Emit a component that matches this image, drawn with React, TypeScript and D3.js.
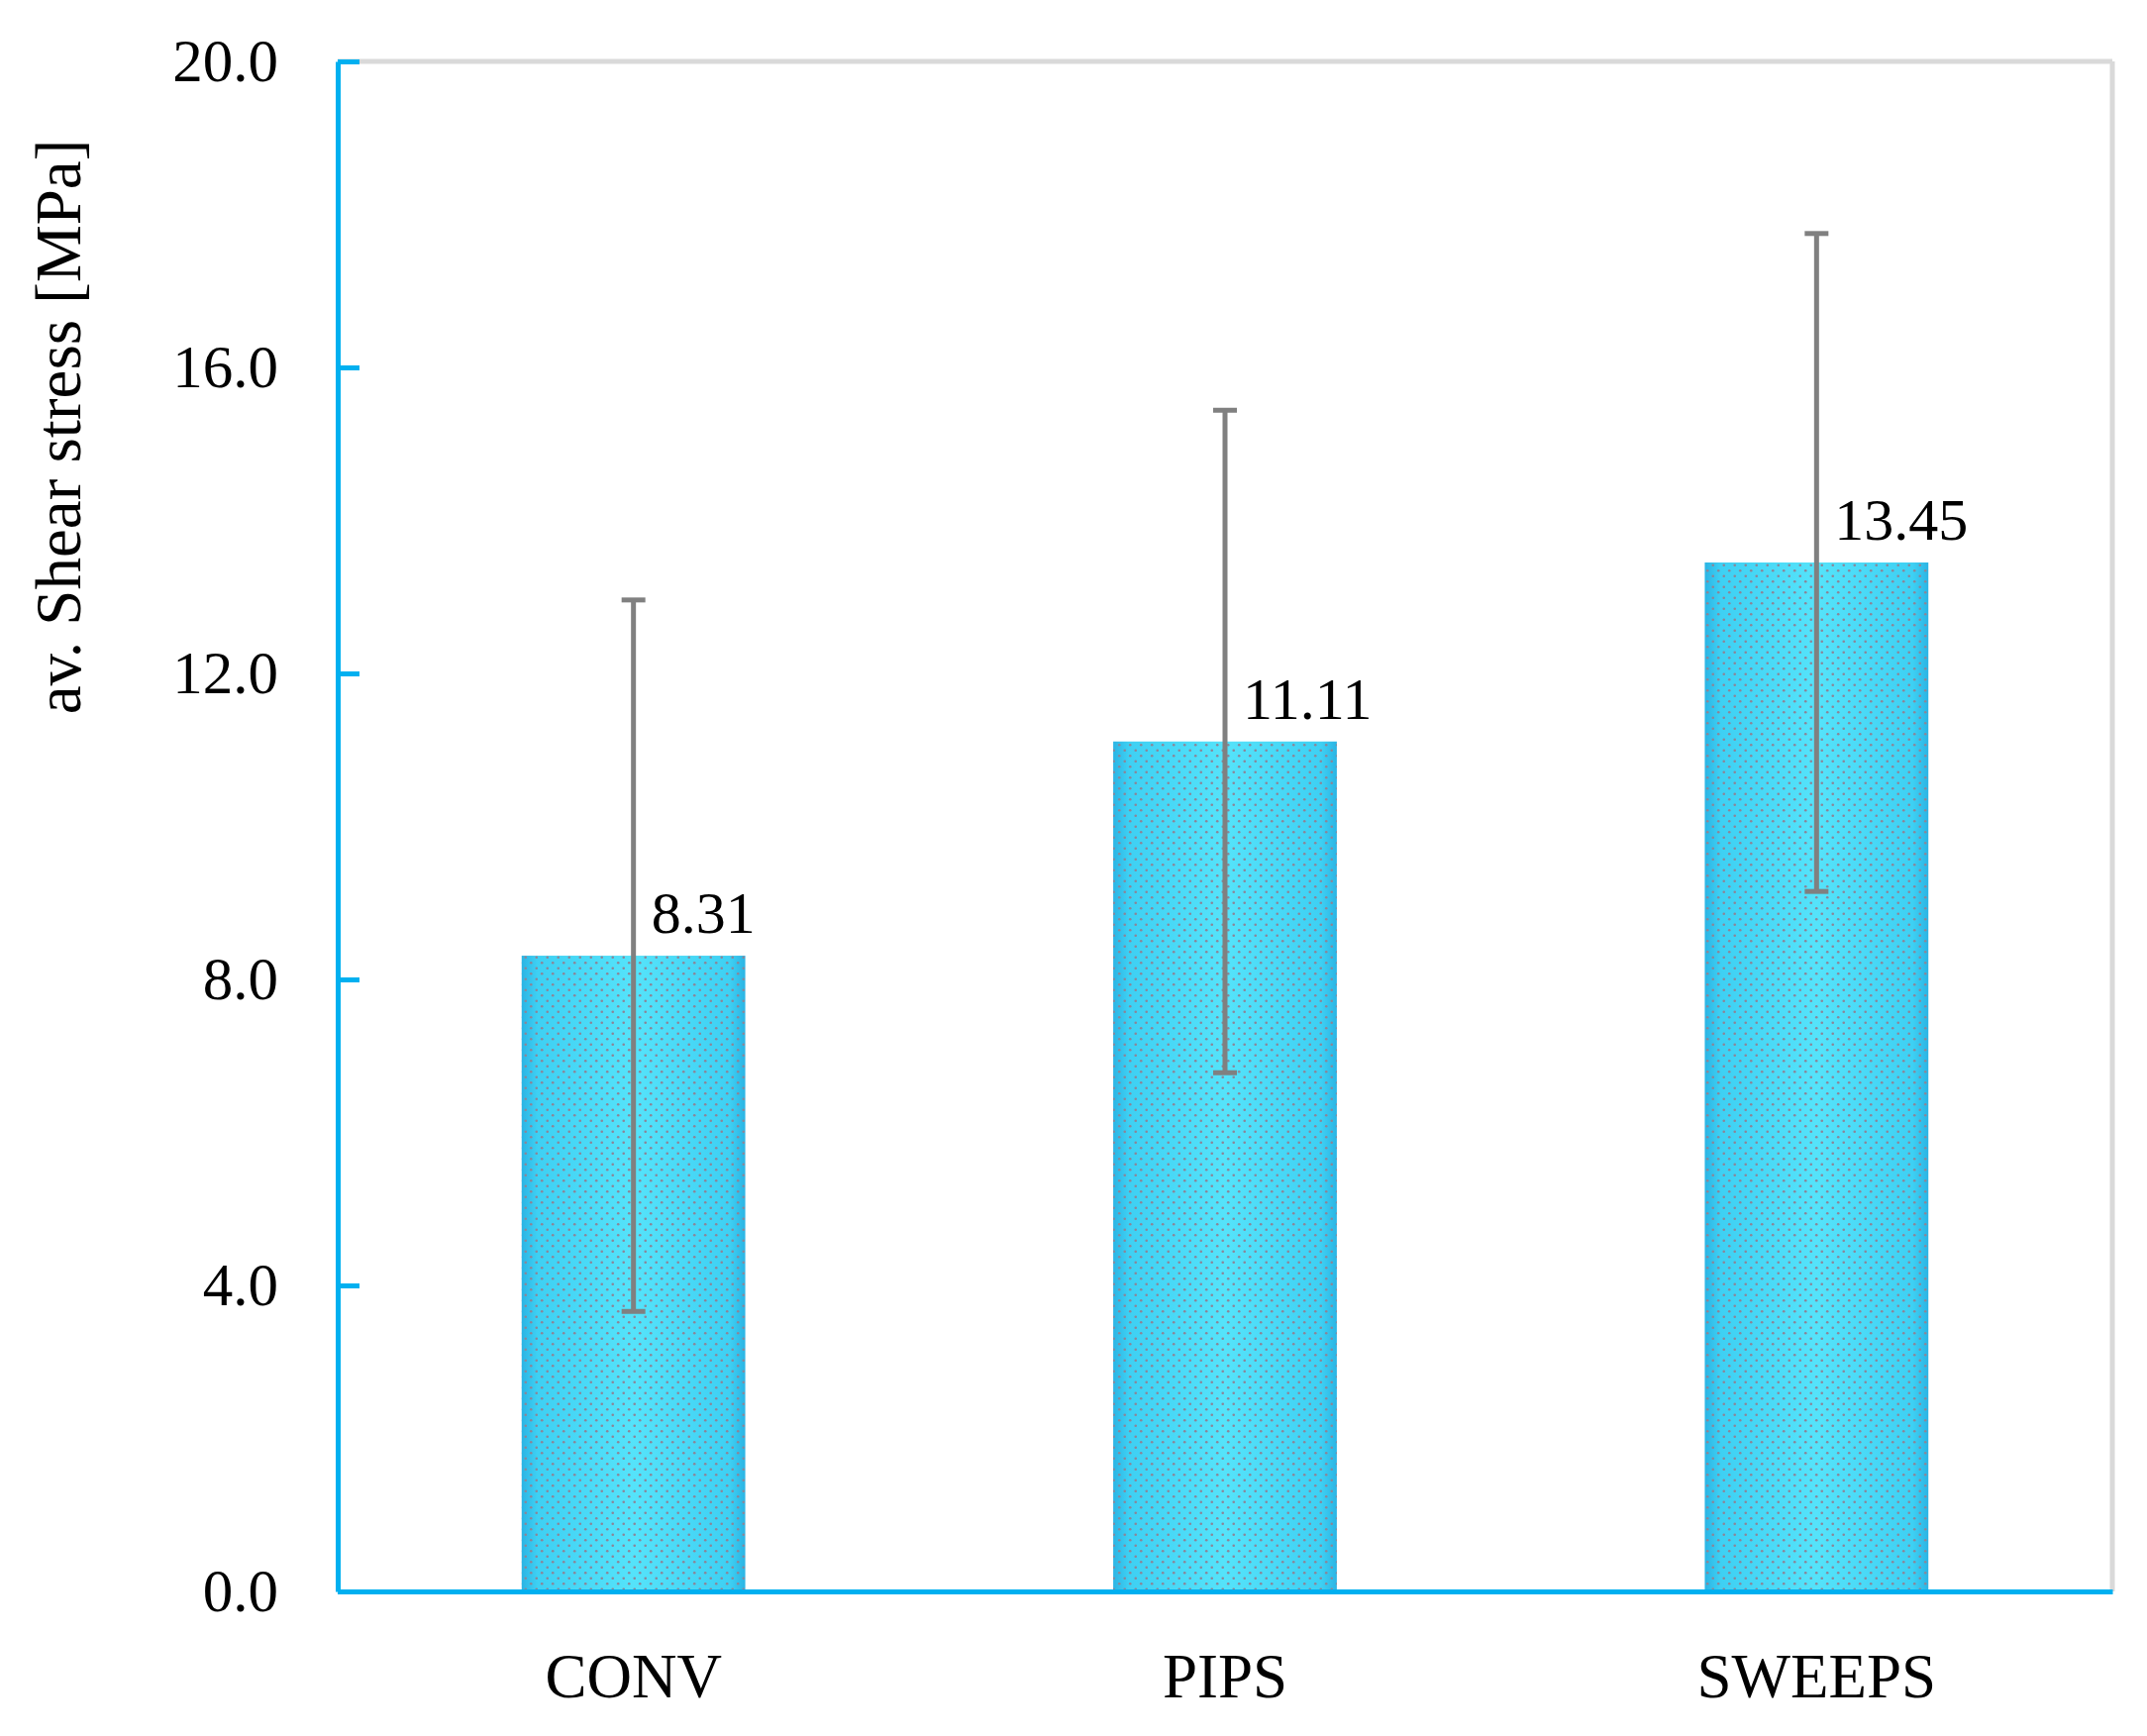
import React, { useEffect, useRef } from 'react';
import * as d3 from 'd3';

const categories = ['CONV', 'PIPS', 'SWEEPS'];
const means = [8.31, 11.11, 13.45];
const errors = [4.65, 4.33, 4.3];
const yTicks = [0, 4, 8, 12, 16, 20];

const width = 2168;
const height = 1753;
const margin = { top: 62, right: 35, bottom: 146, left: 341 };
const innerWidth = width - margin.left - margin.right;
const innerHeight = height - margin.top - margin.bottom;

const blue = '#00b0f0';
const grey = '#808080';
const font = '"Liberation Serif", "Times New Roman", serif';

export default function App() {
  const yAxisRef = useRef<SVGGElement>(null);
  const xAxisRef = useRef<SVGGElement>(null);

  const x = d3.scaleBand().domain(categories).range([0, innerWidth]).padding(0);
  const y = d3.scaleLinear().domain([0, 20]).range([innerHeight, 0]);
  const barWidth = x.bandwidth() * 0.378;

  useEffect(() => {
    const yAxis = d3
      .axisLeft(y)
      .tickValues(yTicks)
      .tickFormat(d3.format('.1f'))
      .tickSize(-22)
      .tickSizeOuter(0)
      .tickPadding(60);
    const gy = d3.select(yAxisRef.current!);
    gy.call(yAxis);
    gy.select('.domain').attr('stroke', blue).attr('stroke-width', 5);
    gy.selectAll('.tick line').attr('stroke', blue).attr('stroke-width', 5);
    gy.selectAll('.tick text')
      .attr('fill', '#000')
      .style('font-family', font)
      .style('font-size', '61px');
    gy.attr('font-family', null).attr('font-size', null);

    const xAxis = d3.axisBottom(x).tickSize(0).tickSizeOuter(0).tickPadding(62);
    const gx = d3.select(xAxisRef.current!);
    gx.call(xAxis);
    gx.select('.domain').attr('stroke', blue).attr('stroke-width', 5);
    gx.selectAll('.tick text')
      .attr('fill', '#000')
      .style('font-family', font)
      .style('font-size', '63px');
    gx.attr('font-family', null).attr('font-size', null);
  }, []);

  return (
    <svg
      width={width}
      height={height}
      style={{ position: 'absolute', left: 0, top: 0, background: '#fff' }}
    >
      <defs>
        <linearGradient id="barFill" x1="0" x2="1" y1="0" y2="0">
          <stop offset="0" stopColor="#2bb4e4" />
          <stop offset="0.07" stopColor="#3ed0f3" />
          <stop offset="0.5" stopColor="#55e3fa" />
          <stop offset="0.93" stopColor="#3ed0f3" />
          <stop offset="1" stopColor="#2bb4e4" />
        </linearGradient>
        <pattern id="dots" width={11} height={11} patternUnits="userSpaceOnUse">
          <circle cx={2.75} cy={2.75} r={1.3} fill="#8b8598" />
          <circle cx={8.25} cy={8.25} r={1.3} fill="#8b8598" />
        </pattern>
      </defs>

      <g transform={`translate(${margin.left}, ${margin.top})`}>
        {/* plot border, top and right */}
        <line x1={0} x2={innerWidth} y1={0} y2={0} stroke="#d9d9d9" strokeWidth={5} />
        <line x1={innerWidth} x2={innerWidth} y1={0} y2={innerHeight} stroke="#d9d9d9" strokeWidth={5} />

        <g className="bars">
          {categories.map((c, i) => {
            const cx = x(c)! + x.bandwidth() / 2;
            return (
              <g key={c}>
                <rect
                  x={cx - barWidth / 2}
                  y={y(means[i])}
                  width={barWidth}
                  height={innerHeight - y(means[i])}
                  fill="url(#barFill)"
                />
                <rect
                  x={cx - barWidth / 2}
                  y={y(means[i])}
                  width={barWidth}
                  height={innerHeight - y(means[i])}
                  fill="url(#dots)"
                />
              </g>
            );
          })}
        </g>

        <g className="errors" stroke={grey} strokeWidth={5}>
          {categories.map((c, i) => {
            const cx = x(c)! + x.bandwidth() / 2;
            const top = y(means[i] + errors[i]);
            const bottom = y(means[i] - errors[i]);
            return (
              <g key={c}>
                <line x1={cx} x2={cx} y1={top} y2={bottom} />
                <line x1={cx - 12} x2={cx + 12} y1={top} y2={top} />
                <line x1={cx - 12} x2={cx + 12} y1={bottom} y2={bottom} />
              </g>
            );
          })}
        </g>

        <g className="labels" fontFamily={font} fontSize={60} fill="#000">
          {categories.map((c, i) => {
            const cx = x(c)! + x.bandwidth() / 2;
            return (
              <text key={c} x={cx + 18} y={y(means[i]) - 23}>
                {means[i].toFixed(2)}
              </text>
            );
          })}
        </g>

        <g ref={yAxisRef} />
        <g ref={xAxisRef} transform={`translate(0, ${innerHeight})`} />
      </g>

      <text
        transform={`translate(81, 431) rotate(-90)`}
        textAnchor="middle"
        fontFamily={font}
        fontSize={65}
        fill="#000"
      >
        av. Shear stress [MPa]
      </text>
    </svg>
  );
}
